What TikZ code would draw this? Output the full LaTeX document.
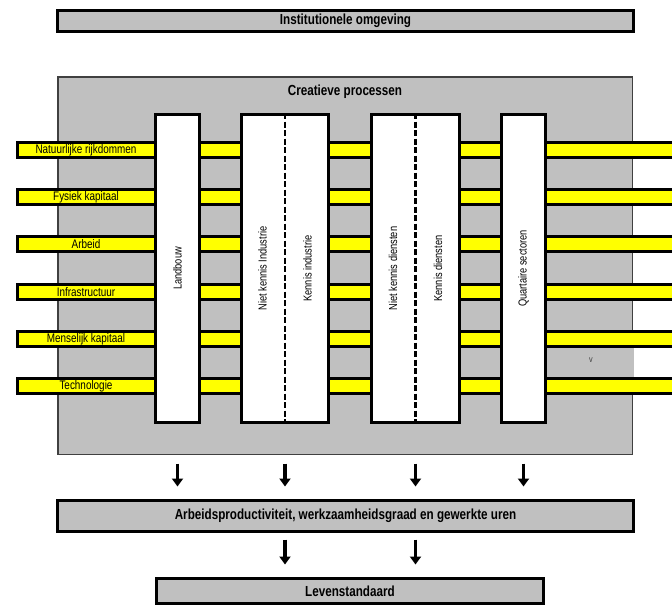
\documentclass[tikz,border=0pt]{standalone}
\usepackage{fontspec}
\setmainfont{Liberation Sans}[FakeStretch=0.8]
\usetikzlibrary{arrows.meta,positioning}
\definecolor{boxgray}{HTML}{C0C0C0}
\definecolor{baryellow}{HTML}{FFFF00}
\definecolor{edgegray}{HTML}{404040}
\tikzset{
    flow diagram/.style = {x=1pt, y=-1pt,
                           >={Triangle[width=11pt, length=8pt]}},
    frame/.style        = {draw, line width=3pt, fill=boxgray, inner sep=0pt},
    panel/.style        = {draw=edgegray, line width=1.5pt, fill=boxgray,
                           inner sep=0pt},
    column/.style       = {draw, line width=3pt, fill=white, inner sep=0pt,
                           minimum height=308pt},
    bar/.style          = {draw, line width=3pt, fill=baryellow, inner sep=0pt,
                           minimum height=15pt, minimum width=665pt, anchor=west},
    title/.style        = {font=\fontsize{14.6}{16}\selectfont\bfseries},
    factor/.style       = {font=\fontsize{12.4}{13}\selectfont},
    sector/.style       = {font=\fontsize{11.6}{13}\selectfont, rotate=90},
    divider/.style      = {line width=2.5pt, dash pattern=on 6pt off 2.5pt},
    flow/.style         = {->, line width=3.5pt}
}

\begin{document}
\begin{tikzpicture}[flow diagram]
\useasboundingbox (0,0) rectangle (672,606);

% Institutional setting and the creative processes around the sectors.
\node[frame, minimum width=576pt, minimum height=21pt, title] (inst) at (345.5,21)
    {Institutionele omgeving};
\node[panel, minimum width=574.5pt, minimum height=377.5pt] (proc) at (345,265.5) {};
\node[title] (proctitle) at (345,92) {Creatieve processen};
\node[fill=boxgray, text=edgegray, inner sep=0pt, minimum width=86pt,
      minimum height=29pt, font=\fontsize{9}{10}\selectfont] (vnote) at (591,362.5)
    {\raisebox{4pt}{v}};

% Production factors running through all sectors.
\foreach \y/\txt [count=\i] in {150/Natuurlijke rijkdommen, 197/Fysiek kapitaal,
        244/Arbeid, 292/Infrastructuur, 339/Menselijk kapitaal, 386/Technologie}{
    \node[bar] (bar-\i) at (15.5,\y) {};
    \node[factor] (factor-\i) at (86,\y) {\txt};
}

% Sectors.
\node[column, minimum width=44pt] (landbouw) at (177.5,268.5) {};
\node[column, minimum width=87pt] (industrie) at (285,268.5) {};
\node[column, minimum width=88pt] (diensten) at (415.5,268.5) {};
\node[column, minimum width=44pt] (quartair) at (523.5,268.5) {};
\draw[divider] (industrie.north) -- (industrie.south);
\draw[divider] (diensten.north) -- (diensten.south);
\node[sector] (landbouw-txt) at (landbouw) {Landbouw};
\node[sector] (nki-txt) at ([xshift=-22.5pt]industrie.center) {Niet kennis Industrie};
\node[sector] (ki-txt) at ([xshift=22.5pt]industrie.center) {Kennis industrie};
\node[sector] (nkd-txt) at ([xshift=-22.5pt]diensten.center) {Niet kennis diensten};
\node[sector] (kd-txt) at ([xshift=22.5pt]diensten.center) {Kennis diensten};
\node[sector] (quartair-txt) at (quartair) {Quartaire sectoren};

% Outcomes.
\node[frame, minimum width=576pt, minimum height=31pt, title] (arbeid) at (345.5,516)
    {Arbeidsproductiviteit, werkzaamheidsgraad en gewerkte uren};
\node[frame, minimum width=387pt, minimum height=25pt, title] (leven) at (350,591)
    {Levenstandaard};
\foreach \col in {landbouw, industrie, diensten, quartair}
    \draw[flow, shorten <=8.5pt, shorten >=12.5pt] (proc.south -| \col) -- (arbeid.north -| \col);
\foreach \col in {industrie, diensten}
    \draw[flow, shorten <=6.5pt, shorten >=12.5pt] (arbeid.south -| \col) -- (leven.north -| \col);

\end{tikzpicture}
\end{document}
